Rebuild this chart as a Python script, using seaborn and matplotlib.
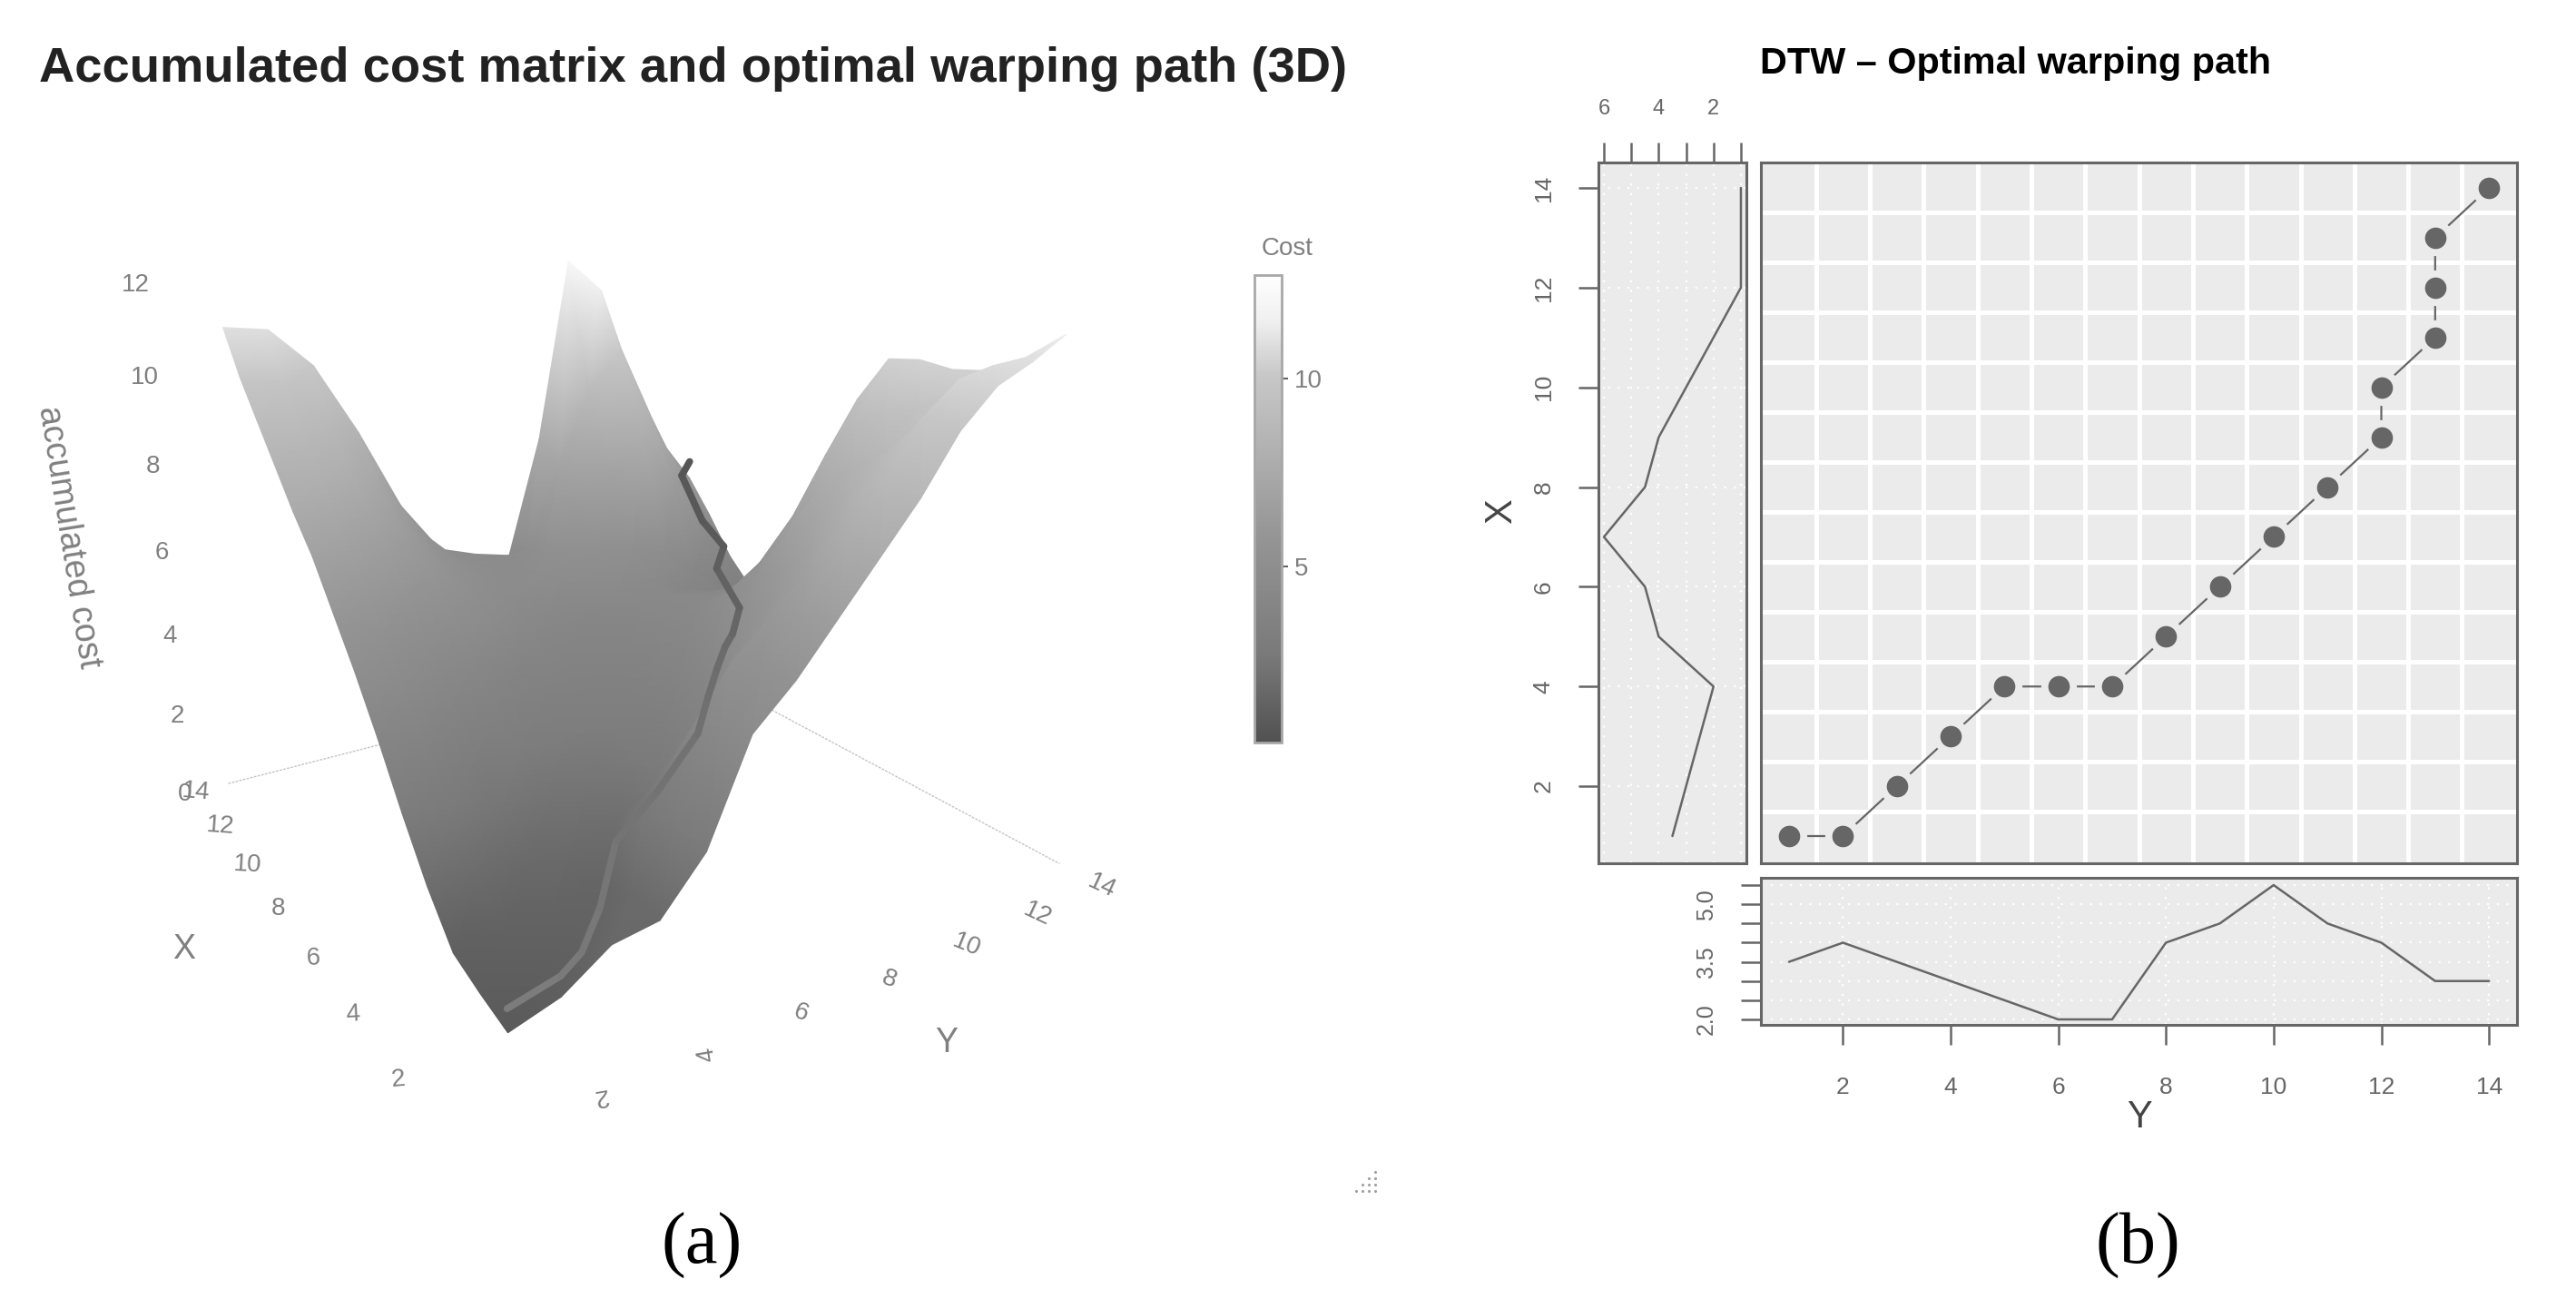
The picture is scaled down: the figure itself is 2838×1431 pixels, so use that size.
import numpy as np
import pandas as pd
import matplotlib
matplotlib.use("Agg")
import matplotlib.pyplot as plt
import matplotlib.tri as mtri
from matplotlib.colors import LinearSegmentedColormap
import seaborn as sns

# Warping path (X index, Y index)
path_x = [1, 1, 2, 3, 4, 4, 4, 5, 6, 7, 8, 9, 10, 11, 12, 13, 14]
path_y = [1, 2, 3, 4, 5, 6, 7, 8, 9, 10, 11, 12, 12, 13, 13, 13, 14]
path_cost = [1.3, 1.5, 1.0, 1.0, 1.6, 2.4, 3.4, 3.6, 3.7, 3.7, 3.5, 3.7, 4.5, 4.7, 5.2, 6.3, 6.4]
path_grey = ["#7c7c7c", "#7a7a7a", "#787878", "#767676", "#747474", "#727272", "#707070", "#6e6e6e",
             "#6c6c6c", "#6a6a6a", "#666666", "#626262", "#5e5e5e", "#5a5a5a", "#585858", "#565656"]

# Series shown in the two side panels
index_x = list(range(1, 15))
series_x = [3.5, 3, 2.5, 2, 4, 4.5, 6, 4.5, 4, 3, 2, 1, 1, 1]
index_y = list(range(1, 15))
series_y = [3.5, 4, 3.5, 3, 2.5, 2, 2, 4, 4.5, 5.5, 4.5, 4, 3, 3]

# Accumulated cost, one row per X, one column per Y
cost_rows = [
    [0.85, 1.1, 1.7, 1.8, 2.8, 4.8, 5.6, 6.6, 7.6, 8.6, 9.8, 10.6, 11.0, 11.5],
    [1.0, 1.1, 1.3, 1.8, 2.9, 4.3, 5.4, 6.4, 7.6, 8.8, 9.9, 10.6, 10.8, 10.9],
    [1.2, 1.3, 1.4, 1.5, 2.7, 4.0, 5.2, 6.0, 6.8, 7.9, 8.9, 9.6, 10.2, 10.5],
    [2.0, 1.9, 1.8, 1.9, 2.0, 2.7, 3.6, 5.0, 6.0, 7.0, 8.0, 8.8, 9.6, 10.4],
    [3.0, 2.7, 2.4, 2.3, 2.4, 2.8, 3.4, 4.2, 5.4, 6.2, 7.2, 8.2, 9.4, 10.5],
    [4.1, 3.6, 3.2, 3.0, 3.0, 3.1, 3.4, 3.8, 4.6, 5.6, 6.6, 7.6, 9.0, 10.4],
    [5.1, 4.5, 4.0, 3.6, 3.4, 3.4, 3.5, 3.8, 4.3, 5.0, 5.6, 6.6, 8.0, 9.3],
    [6.0, 5.4, 4.8, 4.3, 3.9, 3.7, 3.7, 3.8, 4.2, 4.5, 4.6, 4.9, 5.8, 6.9],
    [6.9, 6.3, 5.7, 5.1, 4.6, 4.2, 4.0, 4.0, 4.3, 4.4, 4.3, 4.3, 4.5, 5.0],
    [7.6, 7.1, 6.5, 5.8, 5.1, 4.6, 4.4, 4.4, 4.6, 4.5, 4.1, 3.9, 3.8, 4.0],
    [8.4, 8.0, 7.2, 6.2, 5.3, 4.9, 4.7, 5.0, 5.4, 5.2, 5.0, 4.2, 3.6, 3.3],
    [9.2, 8.8, 7.9, 6.7, 5.6, 5.0, 4.8, 5.2, 6.2, 7.0, 8.0, 6.4, 4.6, 4.0],
    [10.0, 9.8, 8.8, 7.4, 5.9, 5.0, 4.8, 4.9, 7.0, 9.0, 10.0, 8.0, 6.2, 5.0],
    [11.0, 10.9, 10.0, 8.3, 6.3, 5.0, 4.7, 4.5, 7.6, 12.3, 11.5, 8.9, 7.1, 5.9],
]

# Tick labels
ticks_3d = [2, 4, 6, 8, 10, 12, 14]
z_ticks = [0, 2, 4, 6, 8, 10, 12]
y_tick_angles = [190, 100, -20, -20, -22, -25, -25]
x_tick_angles = [5, 3, 2, 0, -3, -4, -5]
y_tick_offsets = [-0.2, -0.4, -0.5, -0.7, -0.8, -0.9, -1.0]

W, H = 2838, 1431
GREY = "#666666"
PANEL = "#EBEBEB"

sns.set_theme(style="white")
plt.rcParams["font.family"] = ["Liberation Sans", "DejaVu Sans"]
fig = plt.figure(figsize=(W / 100, H / 100), dpi=100)


def panel(left, top, right, bottom):
    a = fig.add_axes([left / W, 1 - bottom / H, (right - left) / W, (bottom - top) / H])
    a.set_facecolor(PANEL)
    for s in a.spines.values():
        s.set_color(GREY)
        s.set_linewidth(2.2)
    return a


# --- Overlay in pixel units for the perspective surface and the free text ---
over = fig.add_axes([0, 0, 1, 1])
over.set_xlim(0, W)
over.set_ylim(H, 0)
over.axis("off")

# camera: floor corners in picture units, then vertical vanishing point
S = 1.81
floor_in = [(1, 1), (14, 1), (14, 14), (1, 14)]
floor_out = [(310, 656), (158, 472), (419, 405), (625, 515)]
A, b = [], []
for (x, y), (u, v) in zip(floor_in, floor_out):
    u, v = u * S, v * S
    A.append([x, y, 1, 0, 0, 0, -u * x, -u * y])
    A.append([0, 0, 0, x, y, 1, -v * x, -v * y])
    b += [u, v]
h = np.linalg.solve(np.array(A, float), np.array(b, float))
hom = np.append(h, 1).reshape(3, 3)
w0 = hom[2] @ [14, 1, 1]
v_top, v_floor, vp = 172 * S, 472 * S, np.array([400 * S, 3430 * S, 1])
k = w0 * (v_top - v_floor) / (12 * (vp[1] - v_top))
cam = np.column_stack([hom[:, 0], hom[:, 1], k * vp, hom[:, 2]])
if cam[2] @ [1, 1, 0, 1] < 0:
    cam = -cam


def project(x, y, z):
    q = cam @ np.array([x, y, z, np.ones_like(np.asarray(x, float))], float)
    return q[0] / q[2], q[1] / q[2], q[2]


# floor edges, behind the surface
for a0, a1 in [((14, 0.25), (14, 14)), ((14, 14), (0.1, 14))]:
    p0, p1 = project(*a0, 0), project(*a1, 0)
    over.plot([p0[0], p1[0]], [p0[1], p1[1]], color="#c4c4c4", lw=1.0, ls=(0, (2, 1)), zorder=1)

cost = np.array(cost_rows)
gx, gy = np.meshgrid(index_x, index_y, indexing="ij")
u, v, w = project(gx.ravel().astype(float), gy.ravel().astype(float), cost.ravel())
n = cost.shape[0]
tris = []
for i in range(n - 1):
    for j in range(n - 1):
        a, c, d, e = i * n + j, i * n + j + 1, (i + 1) * n + j, (i + 1) * n + j + 1
        tris += [[a, c, e], [a, e, d]]
tris = np.array(tris)
tris = tris[np.argsort(-w[tris].mean(axis=1))]  # far faces first

cost_cmap = LinearSegmentedColormap.from_list(
    "cost",
    [(0.0, "#515151"), (0.19, "#7a7a7a"), (0.45, "#969696"), (0.62, "#b0b0b0"),
     (0.79, "#c8c8c8"), (0.90, "#efefef"), (1.0, "#ffffff")],
)
mesh = over.tripcolor(mtri.Triangulation(u, v, tris), cost.ravel(), shading="gouraud",
                      cmap=cost_cmap, vmin=0.31, vmax=12.75, zorder=2)

# optimal path on the surface
pu, pv, _ = project(np.array(path_x, float), np.array(path_y, float), np.array(path_cost))
for i, col in enumerate(path_grey):
    over.plot(pu[i:i + 2], pv[i:i + 2], color=col, lw=5.5, solid_capstyle="round", zorder=3)

TXT3D = "#808080"
for t, ang in zip(ticks_3d, x_tick_angles):
    px, py, _ = project(float(t), -0.5, 0.0)
    over.text(px, py, str(t), color=TXT3D, fontsize=20, rotation=ang, ha="center", va="center")
for t, ang, off in zip(ticks_3d, y_tick_angles, y_tick_offsets):
    px, py, _ = project(off, float(t), 0.0)
    over.text(px, py, str(t), color=TXT3D, fontsize=20, rotation=ang, ha="center", va="center")
for t in z_ticks:
    px, py, _ = project(14.0, -0.75, float(t))
    over.text(px, py, str(t), color=TXT3D, fontsize=20, ha="center", va="center")

over.text(42 * S, 327 * S, "accumulated cost", color=TXT3D, fontsize=27, rotation=-81,
          ha="center", va="center")
over.text(112 * S, 578 * S, "X", color=TXT3D, fontsize=27, ha="center", va="center")
over.text(576 * S, 635 * S, "Y", color=TXT3D, fontsize=27, ha="center", va="center")
over.text(43, 76, "Accumulated cost matrix and optimal warping path (3D)", color="#222222",
          fontsize=39.2, fontweight="bold", ha="left", va="center")
over.text(2221, 70, "DTW \u2013 Optimal warping path", color="black", fontsize=29.8,
          fontweight="bold", ha="center", va="center")
over.text(1654, 563, "X", color="#444444", fontsize=30, rotation=90, ha="center", va="center")
over.text(2357, 1231, "Y", color="#444444", fontsize=30, ha="center", va="center")
over.text(773, 1372, "(a)", color="black", fontsize=58, family="Liberation Serif", ha="center", va="center")
over.text(2355, 1372, "(b)", color="black", fontsize=58, family="Liberation Serif", ha="center", va="center")
over.text(1418, 274, "Cost", color=TXT3D, fontsize=20, ha="center", va="center")

# small resize handle left in the screenshot
for r in range(4):
    for c in range(r + 1):
        over.plot(1515 - 7 * c, 1291 + 7 * r, ".", color="#a0a0a0", ms=2.5)

# colour bar
cax = fig.add_axes([1382 / W, 1 - 818 / H, 30 / W, 515 / H])
cbar = fig.colorbar(mesh, cax=cax)
cbar.set_ticks([5, 10])
cbar.ax.tick_params(right=True, labelsize=20, labelcolor=TXT3D, length=5, width=1.5, color=GREY, pad=5)
cbar.outline.set_edgecolor("#a8a8a8")
cbar.outline.set_linewidth(2)

# --- Main panel: warping path ---
ax = panel(1940, 179, 2773, 951)
path_df = pd.DataFrame({"Y": path_y, "X": path_x})
grid_pos = np.arange(1.5, 14)
ax.set_xticks(grid_pos)
ax.set_yticks(grid_pos)
ax.grid(True, color="white", lw=3.6)
ax.set_axisbelow(True)
ax.tick_params(length=0, labelbottom=False, labelleft=False)
sns.lineplot(data=path_df, x="Y", y="X", sort=False, estimator=None, color=GREY, lw=1.6, ax=ax, zorder=3)
sns.scatterplot(data=path_df, x="Y", y="X", color=PANEL, s=800, linewidth=0, ax=ax, zorder=4)
sns.scatterplot(data=path_df, x="Y", y="X", color=GREY, s=290, linewidth=0, ax=ax, zorder=5)
ax.set_xlim(0.477, 14.52)
ax.set_ylim(0.454, 14.51)
ax.set_xlabel("")
ax.set_ylabel("")

# --- Left panel: X series ---
dots = dict(color="white", lw=1.6, ls=(0, (1, 3.8)))
axl = panel(1761, 179, 1924, 951)
sns.lineplot(x=series_x, y=index_x, orient="y", color=GREY, lw=1.8, ax=axl, zorder=3, estimator=None)
axl.set_xlim(6.2, 0.8)
axl.set_ylim(0.454, 14.51)
axl.set_xticks(range(1, 7))
axl.set_xticklabels(["", "2", "", "4", "", "6"])
axl.set_yticks(range(2, 15, 2))
axl.grid(True, **dots)
axl.set_axisbelow(True)
axl.xaxis.tick_top()
axl.tick_params(axis="x", top=True, length=15.8, width=1.8, color=GREY, labelcolor=GREY, labelsize=17, pad=19)
axl.tick_params(axis="y", left=True, length=15.8, width=1.8, color=GREY, labelcolor=GREY, labelsize=19, pad=19,
                labelrotation=90)
for lab in axl.get_yticklabels():
    lab.set_va("center")

# --- Bottom panel: Y series ---
axb = panel(1940, 967, 2773, 1129)
sns.lineplot(x=index_y, y=series_y, color=GREY, lw=1.8, ax=axb, zorder=3, estimator=None)
axb.set_xlim(0.477, 14.52)
axb.set_ylim(1.858, 5.69)
axb.set_xticks(range(2, 15, 2))
axb.set_yticks(np.arange(2, 5.6, 0.5))
axb.set_yticklabels(["2.0", "", "", "3.5", "", "", "5.0", ""])
axb.grid(True, **dots)
axb.set_axisbelow(True)
axb.tick_params(axis="x", bottom=True, length=15.8, width=1.8, color=GREY, labelcolor=GREY, labelsize=19, pad=25)
axb.tick_params(axis="y", left=True, length=15.8, width=1.8, color=GREY, labelcolor=GREY, labelsize=18, pad=19,
                labelrotation=90)
for lab in axb.get_yticklabels():
    lab.set_va("center")

fig.savefig("out.png", dpi=100, facecolor="white")
